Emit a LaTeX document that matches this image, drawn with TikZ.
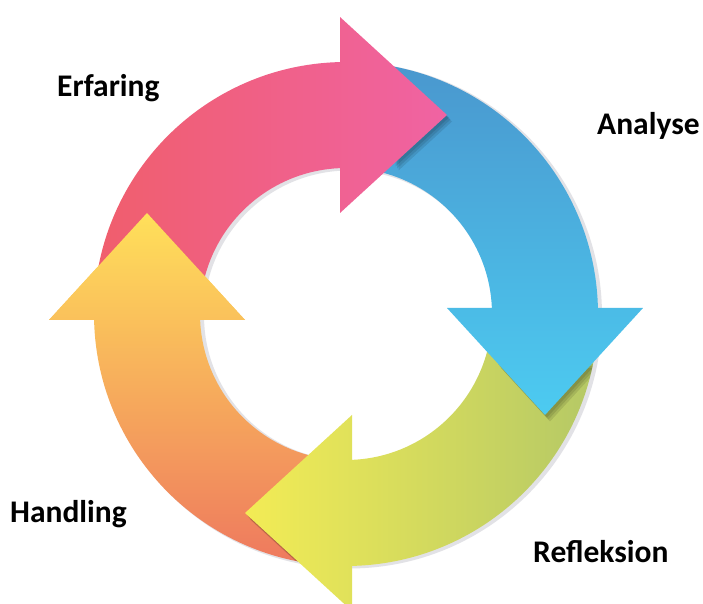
\documentclass[tikz,border=0pt]{standalone}
\usepackage{fontspec}
\setmainfont{Carlito}
\usetikzlibrary{calc}
\definecolor{pkL}{HTML}{F05E6C}
\definecolor{pkR}{HTML}{F063A3}
\definecolor{blT}{HTML}{4A97CE}
\definecolor{blB}{HTML}{4CCBF1}
\definecolor{grL}{HTML}{F3EC55}
\definecolor{grR}{HTML}{B4C866}
\definecolor{yeT}{HTML}{FFE05A}
\definecolor{orB}{HTML}{EE785E}
\definecolor{rim}{HTML}{E2E2E6}
\tikzset{
  % #1 = cardinal direction of the head base (90, 0, -90, -180)
  cyc/.style={insert path={({#1+88.7}:252) arc[start angle={#1+88.7}, end angle={#1+1.364}, radius=252]
     -- ({#1+1.157}:297.06) -- ({#1-26.91}:223.17) -- ({#1+3.40}:101.18) -- ({#1+2.355}:146)
     arc[start angle={#1+2.355}, end angle={#1+88.7}, radius=146] -- cycle}},
  headtri/.style={insert path={({#1+1.157}:297.06) -- ({#1-26.91}:223.17) -- ({#1+3.40}:101.18) -- cycle}},
  tipshade/.style={insert path={({#1-26.91}:223.17) -- ($({#1-26.91}:223.17)!0.5!({#1+1.157}:297.06)$)
     -- ($({#1-26.91}:223.17)!0.5!({#1+3.40}:101.18)$) -- cycle}},
  lbl/.style={font=\bfseries\fontsize{31.5}{38}\selectfont, anchor=base west, inner sep=0pt}
}
\newcommand\tipshadow[1]{%
  \begin{scope}
    \clip (0,0) circle[radius=252];
    \foreach \dx/\dy in {2/-2.5,3.5/-4.5,5/-6.5}{
      \fill[black, opacity=0.1, shift={(\dx,\dy)}, tipshade=#1];
    }
  \end{scope}}
\begin{document}
\begin{tikzpicture}[x=1pt,y=1pt]
\useasboundingbox (0,0) rectangle (703,604);
\fill[white] (0,0) rectangle (703,604);
\begin{scope}[shift={(346,290)}]
  % soft rim shadow
  \fill[rim, even odd rule] (3,-1.5) circle[radius=253] (3,-1.5) circle[radius=145];
  % Handling (yellow/orange)
  \shade[top color=yeT, bottom color=orB, cyc=-180];
  \tipshadow{-90}
  % Refleksion (green)
  \shade[left color=grL, right color=grR, cyc=-90];
  \tipshadow{0}
  % Analyse (blue)
  \shade[top color=blT, bottom color=blB, cyc=0];
  \tipshadow{90}
  % Erfaring (pink)
  \shade[left color=pkL, right color=pkR, cyc=90];
  \tipshadow{-180}
  % yellow head again on top of pink body
  \begin{scope}
    \clip[headtri=-180];
    \shade[top color=yeT, bottom color=orB, cyc=-180];
  \end{scope}
\end{scope}
\node[lbl] (erf) at (57,507) {Erfaring};
\node[lbl] (ana) at (597,469) {Analyse};
\node[lbl] (han) at (10,81) {Handling};
\node[lbl] (ref) at (533,41) {Refleksion};
\end{tikzpicture}
\end{document}
